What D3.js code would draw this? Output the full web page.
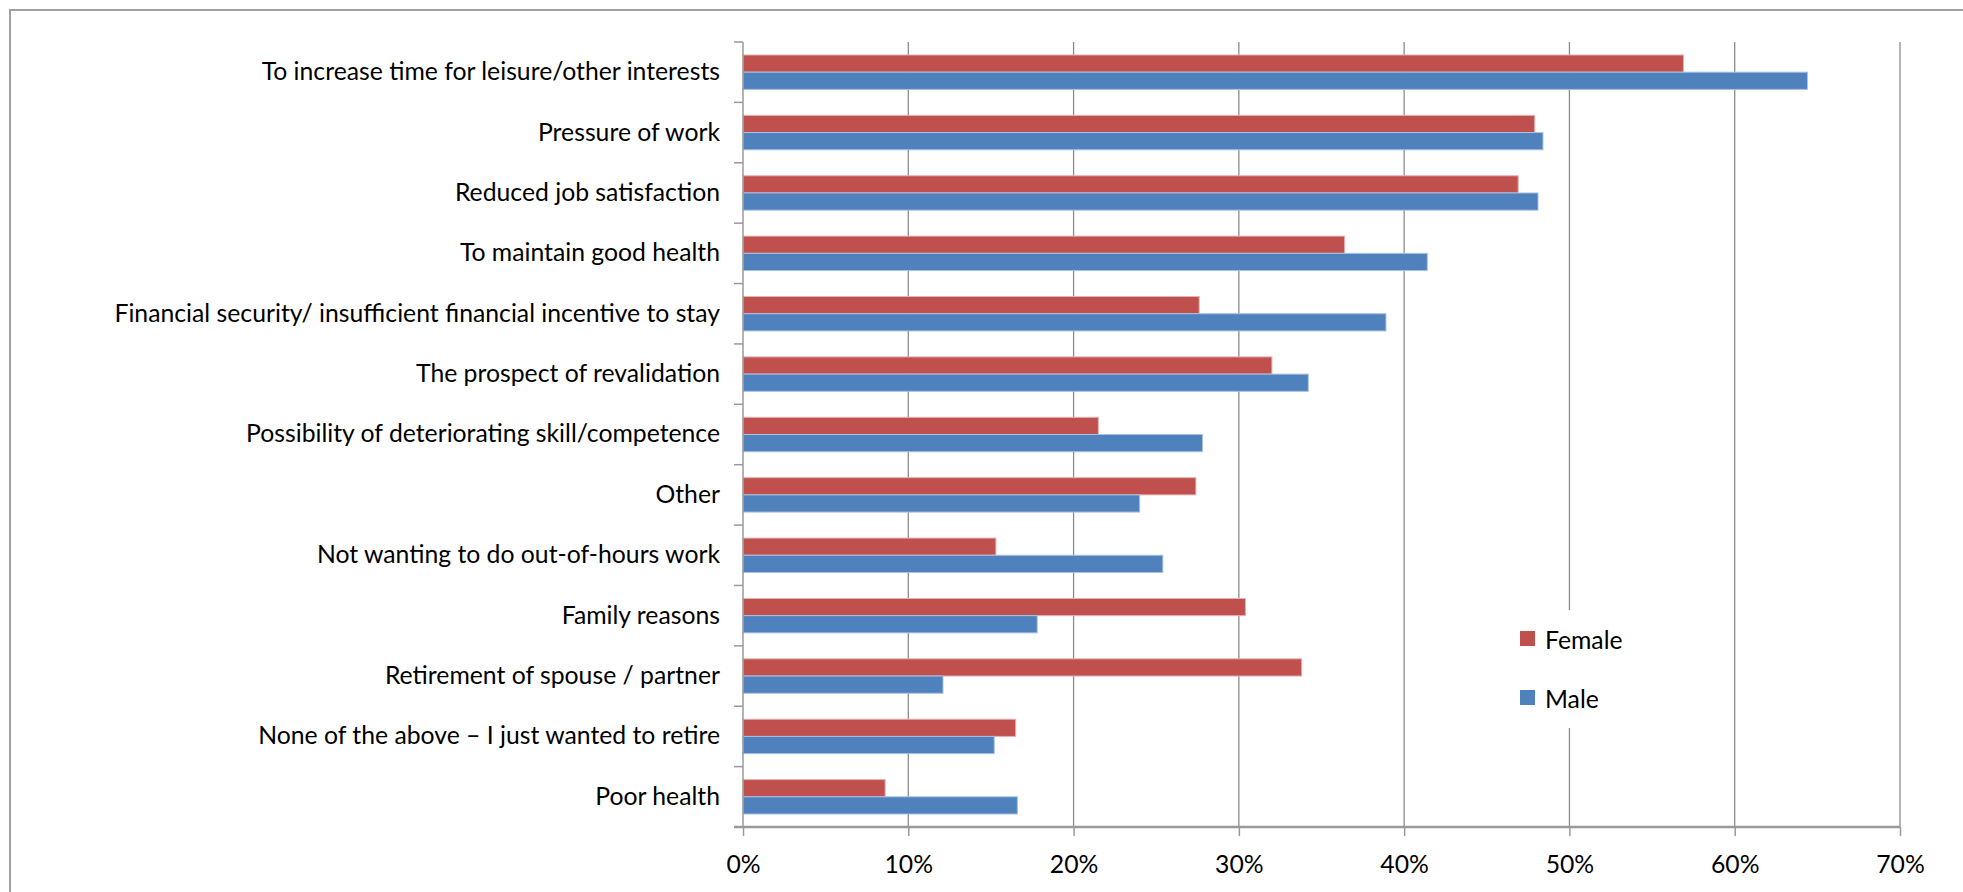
<!DOCTYPE html>
<html>
<head>
<meta charset="utf-8">
<script src="https://cdn.jsdelivr.net/npm/d3@7"></script>
<style>
  html, body { margin: 0; padding: 0; background: #fff; }
  svg { display: block; }
  text { font-family: Lato, "Open Sans", sans-serif; fill: #000; }
</style>
</head>
<body>
<svg id="chart" width="1963" height="892"></svg>
<script>
// ---- data ----
const categories = [
  "To increase time for leisure/other interests",
  "Pressure of work",
  "Reduced job satisfaction",
  "To maintain good health",
  "Financial security/ insufficient financial incentive to stay",
  "The prospect of revalidation",
  "Possibility of deteriorating skill/competence",
  "Other",
  "Not wanting to do out-of-hours work",
  "Family reasons",
  "Retirement of spouse / partner",
  "None of the above \u2013 I just wanted to retire",
  "Poor health"
];
const seriesNames = ["Female", "Male"];
const female = [56.9, 47.9, 46.9, 36.4, 27.6, 32.0, 21.5, 27.4, 15.3, 30.4, 33.8, 16.5, 8.6];
const male   = [64.4, 48.4, 48.1, 41.4, 38.9, 34.2, 27.8, 24.0, 25.4, 17.8, 12.1, 15.2, 16.6];
const xTicks = [0, 10, 20, 30, 40, 50, 60, 70];

// ---- layout ----
const W = 1963, H = 892;
const plot = { left: 743, right: 1900, top: 42, bottom: 827 };
const colors = { Female: "#C0504D", Male: "#4F81BD" };
const strokes = { Female: "#e3b3b2", Male: "#a9c2e2" };
const gridColor = "#8c8c8c";
const axisColor = "#9a9a9a";

const svg = d3.select("#chart");

// frame
svg.append("rect")
  .attr("x", 10).attr("y", 10)
  .attr("width", 2400).attr("height", 1400)
  .attr("fill", "#fff")
  .attr("stroke", "#a0a0a0")
  .attr("stroke-width", 2);

// determine font size to mimic original label widths
const probe = svg.append("text").attr("font-size", 24)
  .text(categories[4]);
const probeW = probe.node().getComputedTextLength();
probe.remove();
const fs = 24 * 606 / probeW;

const x = d3.scaleLinear().domain([0, 70]).range([plot.left, plot.right]);
const y = d3.scaleBand().domain(categories)
  .range([plot.top, plot.bottom])
  .paddingInner(0.43).paddingOuter(0.215);
const ySub = d3.scaleBand().domain(seriesNames).range([0, y.bandwidth()]);

// gridlines
svg.append("g").selectAll("line")
  .data(xTicks.filter(d => d > 0))
  .join("line")
  .attr("x1", d => x(d)).attr("x2", d => x(d))
  .attr("y1", plot.top).attr("y2", plot.bottom)
  .attr("stroke", gridColor).attr("stroke-width", 1.3);

// bars
const rows = categories.map((c, i) => ({ c, Female: female[i], Male: male[i] }));
const gBars = svg.append("g");
seriesNames.forEach(s => {
  gBars.selectAll("rect." + s)
    .data(rows)
    .join("rect")
    .attr("class", s)
    .attr("x", x(0))
    .attr("y", d => y(d.c) + ySub(s))
    .attr("width", d => x(d[s]) - x(0))
    .attr("height", ySub.bandwidth())
    .attr("fill", colors[s])
    .attr("stroke", strokes[s])
    .attr("stroke-width", 1);
});

// y axis line + boundary ticks
svg.append("line")
  .attr("x1", plot.left).attr("x2", plot.left)
  .attr("y1", plot.top).attr("y2", plot.bottom)
  .attr("stroke", axisColor).attr("stroke-width", 1.5);
const step = y.step();
const boundaries = d3.range(categories.length + 1).map(i => plot.top + i * step);
svg.append("g").selectAll("line")
  .data(boundaries)
  .join("line")
  .attr("x1", plot.left - 9).attr("x2", plot.left)
  .attr("y1", d => d).attr("y2", d => d)
  .attr("stroke", axisColor).attr("stroke-width", 1.5);

// y labels
const yAxis = d3.axisLeft(y).tickSize(0).tickPadding(23);
const gy = svg.append("g").attr("transform", `translate(${plot.left},0)`).call(yAxis);
gy.select(".domain").remove();
gy.selectAll("text").attr("font-size", fs).attr("font-family", null).attr("fill", "#000");

// x axis
const xAxis = d3.axisBottom(x).tickValues(xTicks).tickSize(9).tickFormat(d => d + "%");
const gx = svg.append("g").attr("transform", `translate(0,${plot.bottom})`).call(xAxis);
gx.select(".domain").attr("stroke", axisColor).attr("stroke-width", 2.5)
  .attr("d", `M${plot.left - 9},0H${plot.right}`);
gx.selectAll(".tick line").attr("stroke", axisColor).attr("stroke-width", 1.5);
gx.selectAll("text").attr("font-size", fs).attr("font-family", null)
  .attr("fill", "#000").attr("y", 46).attr("dy", null);

// legend
const lg = svg.append("g");
lg.append("rect").attr("x", 1505).attr("y", 610).attr("width", 140).attr("height", 118).attr("fill", "#fff");
seriesNames.forEach((s, i) => {
  const yy = 631 + i * 59;
  lg.append("rect").attr("x", 1520).attr("y", yy).attr("width", 15).attr("height", 15).attr("fill", colors[s]);
  lg.append("text").attr("x", 1545).attr("y", yy + 18).attr("font-size", fs).text(s);
});
</script>
</body>
</html>
